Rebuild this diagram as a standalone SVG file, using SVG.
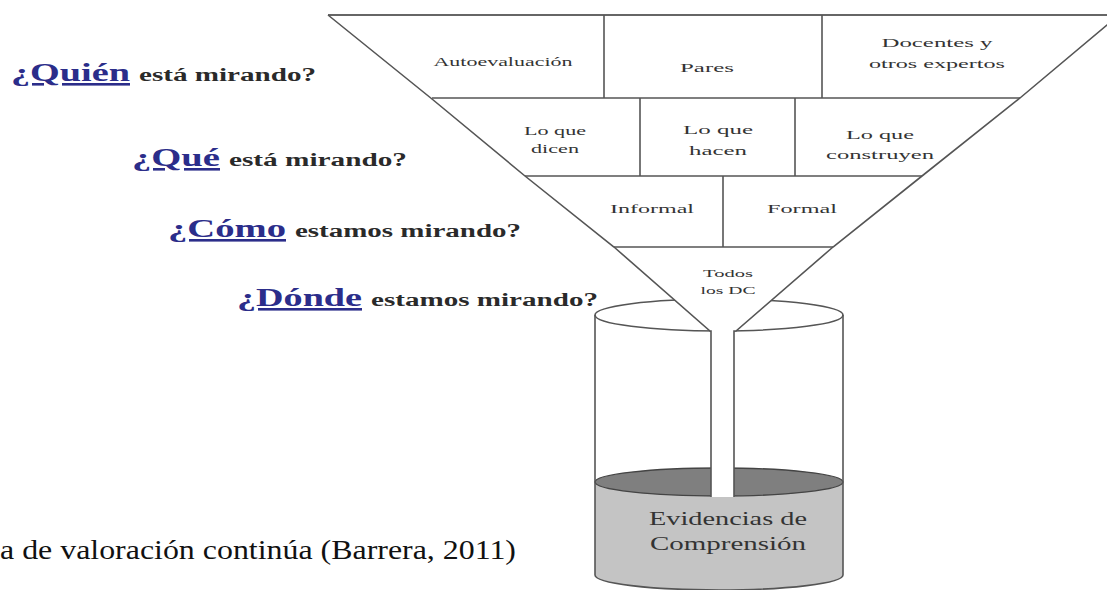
<svg xmlns="http://www.w3.org/2000/svg" width="1107" height="590" viewBox="0 0 1107 590">
<style>
.ln{stroke:#555;stroke-width:1.6;fill:none}
text{font-family:"Liberation Serif","DejaVu Serif","Noto Serif",serif}
.ft{fill:#333;text-anchor:middle}
.q{font-weight:bold;fill:#2b2d8a;text-decoration:underline}
.r{font-weight:bold;fill:#2a2a2a}
.cap{fill:#111}
</style>
<rect width="1107" height="590" fill="#fff"/>
<g id="cylinder">
<path d="M595,482 L595,575 A124,15 0 0 0 843,575 L843,482 Z" fill="#c4c4c4"/>
<ellipse cx="719" cy="482" rx="124" ry="14" fill="#7f7f7f" stroke="#444" stroke-width="1.4"/>
<line class="ln" x1="595" y1="315" x2="595" y2="575"/>
<line class="ln" x1="843" y1="315" x2="843" y2="575"/>
<path class="ln" d="M595,575 A124,15 0 0 0 843,575"/>
<ellipse cx="719" cy="315" rx="124" ry="16" class="ln"/>
<text class="ft" x="728" y="525" font-size="18" textLength="158" lengthAdjust="spacingAndGlyphs" fill="#3a3a3a">Evidencias de</text>
<text class="ft" x="728" y="550" font-size="18" textLength="156" lengthAdjust="spacingAndGlyphs" fill="#3a3a3a">Comprensión</text>
</g>
<g id="funnel">
<polygon points="328,15 1119,15 1020,98 922,176 833,247 736,331 734,331 734,497 711,497 711,331 710,331 614,247 525,176 432,99" fill="#fff"/>
<line x1="328" y1="15" x2="1107" y2="15" stroke="#666" stroke-width="2"/>
<polyline class="ln" points="328,15 432,99 525,176 614,247 710,331 711,331 711,497"/>
<polyline class="ln" points="1119,15 1020,98 922,176 833,247 736,331 734,331 734,497"/>
<line class="ln" x1="432" y1="98" x2="1020" y2="98"/>
<line class="ln" x1="525" y1="176" x2="922" y2="176"/>
<line class="ln" x1="614" y1="247" x2="833" y2="247"/>
<line class="ln" x1="604" y1="15" x2="604" y2="98"/>
<line class="ln" x1="822" y1="15" x2="822" y2="98"/>
<line class="ln" x1="640" y1="98" x2="640" y2="176"/>
<line class="ln" x1="795" y1="98" x2="795" y2="176"/>
<line class="ln" x1="723" y1="176" x2="723" y2="247"/>
</g>
<g id="row1">
<text class="ft" x="503" y="66" font-size="13" textLength="139" lengthAdjust="spacingAndGlyphs">Autoevaluación</text>
<text class="ft" x="707" y="72" font-size="13" textLength="54" lengthAdjust="spacingAndGlyphs">Pares</text>
<text class="ft" x="937" y="47" font-size="13" textLength="111" lengthAdjust="spacingAndGlyphs">Docentes y</text>
<text class="ft" x="937" y="68" font-size="13" textLength="136" lengthAdjust="spacingAndGlyphs">otros expertos</text>
</g>
<g id="row2">
<text class="ft" x="555" y="135" font-size="12" textLength="62" lengthAdjust="spacingAndGlyphs">Lo que</text>
<text class="ft" x="555" y="153" font-size="12" textLength="48" lengthAdjust="spacingAndGlyphs">dicen</text>
<text class="ft" x="718" y="134" font-size="13" textLength="70" lengthAdjust="spacingAndGlyphs">Lo que</text>
<text class="ft" x="718" y="155" font-size="13" textLength="58" lengthAdjust="spacingAndGlyphs">hacen</text>
<text class="ft" x="880" y="139" font-size="13" textLength="68" lengthAdjust="spacingAndGlyphs">Lo que</text>
<text class="ft" x="880" y="159" font-size="13" textLength="108" lengthAdjust="spacingAndGlyphs">construyen</text>
</g>
<g id="row3">
<text class="ft" x="652" y="213" font-size="13" textLength="84" lengthAdjust="spacingAndGlyphs">Informal</text>
<text class="ft" x="802" y="213" font-size="13" textLength="70" lengthAdjust="spacingAndGlyphs">Formal</text>
</g>
<g id="row4">
<text class="ft" x="728" y="277" font-size="11" textLength="50" lengthAdjust="spacingAndGlyphs">Todos</text>
<text class="ft" x="728" y="294" font-size="11" textLength="55" lengthAdjust="spacingAndGlyphs">los DC</text>
</g>
<g id="label-quien">
<text class="q" x="11" y="81" font-size="26" textLength="119" lengthAdjust="spacingAndGlyphs">¿Quién</text>
<text class="r" x="139" y="81" font-size="18" textLength="177" lengthAdjust="spacingAndGlyphs">está mirando?</text>
</g>
<g id="label-que">
<text class="q" x="132" y="166" font-size="26" textLength="88" lengthAdjust="spacingAndGlyphs">¿Qué</text>
<text class="r" x="229" y="166" font-size="18" textLength="178" lengthAdjust="spacingAndGlyphs">está mirando?</text>
</g>
<g id="label-como">
<text class="q" x="168" y="237" font-size="26" textLength="118" lengthAdjust="spacingAndGlyphs">¿Cómo</text>
<text class="r" x="295" y="237" font-size="18" textLength="226" lengthAdjust="spacingAndGlyphs">estamos mirando?</text>
</g>
<g id="label-donde">
<text class="q" x="237" y="306" font-size="26" textLength="125" lengthAdjust="spacingAndGlyphs">¿Dónde</text>
<text class="r" x="371" y="306" font-size="18" textLength="227" lengthAdjust="spacingAndGlyphs">estamos mirando?</text>
</g>
<g id="caption">
<text class="cap" x="0" y="559" font-size="27" textLength="516" lengthAdjust="spacingAndGlyphs">a de valoración continúa (Barrera, 2011)</text>
</g>
</svg>
